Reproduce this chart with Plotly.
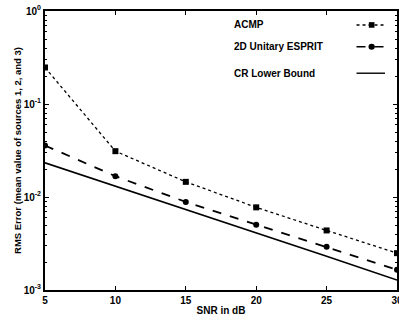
import plotly.graph_objects as go

snr = [5, 10, 15, 20, 25, 30]
acmp = [0.247, 0.0311, 0.01455, 0.00774, 0.00437, 0.00249]
esprit = [0.0358, 0.01674, 0.00885, 0.00504, 0.00292, 0.00165]
crb = [0.0233, 0.0131, 0.0074, 0.00415, 0.00231, 0.00128]

legend_names = ["ACMP", "2D Unitary ESPRIT", "CR Lower Bound"]
xticks = [5, 10, 15, 20, 25, 30]
yticks = [1e-3, 1e-2, 1e-1, 1]
yticktext = ["10<sup>-3</sup>", "10<sup>-2</sup>", "10<sup>-1</sup>", "10<sup>0</sup>"]
minor_digits = [2, 3, 4, 5, 6, 7, 8, 9]
decades = [1e-3, 1e-2, 1e-1]
yminor = [d * m for d in decades for m in minor_digits]

FONT = "Liberation Sans"
fig = go.Figure()
fig.add_trace(go.Scatter(x=snr, y=acmp, mode="lines+markers", name=legend_names[0],
                         line=dict(color="black", width=1.3, dash="dot"),
                         marker=dict(symbol="square", size=6, color="black")))
fig.add_trace(go.Scatter(x=snr, y=esprit, mode="lines+markers", name=legend_names[1],
                         line=dict(color="black", width=1.8, dash="dash"),
                         marker=dict(symbol="circle", size=6, color="black")))
fig.add_trace(go.Scatter(x=snr, y=crb, mode="lines", name=legend_names[2],
                         line=dict(color="black", width=1.6)))

# legend (text left, sample right, as in the original)
leg_y = [0.950, 0.872, 0.777]
dashes = ["dot", "dash", "solid"]
symbols = ["square", "circle", None]
for name, yy, d, s in zip(legend_names, leg_y, dashes, symbols):
    fig.add_annotation(text="<b>" + name + "</b>", xref="paper", yref="paper",
                       x=0.53, y=yy, xanchor="left", yanchor="middle", showarrow=False,
                       font=dict(family=FONT, size=10, color="black"))
    fig.add_shape(type="line", xref="paper", yref="paper", x0=0.885, x1=0.966, y0=yy, y1=yy,
                  line=dict(color="black", width=1.4, dash=d))
    if s == "square":
        fig.add_shape(type="rect", xref="paper", yref="paper", x0=0.92, x1=0.936,
                      y0=yy - 0.01, y1=yy + 0.01, fillcolor="black", line=dict(width=0))
    elif s == "circle":
        fig.add_shape(type="circle", xref="paper", yref="paper", x0=0.919, x1=0.937,
                      y0=yy - 0.011, y1=yy + 0.011, fillcolor="black", line=dict(width=0))

fig.update_layout(
    width=399, height=322,
    margin=dict(l=45, r=2, t=11, b=32),
    paper_bgcolor="white", plot_bgcolor="white",
    showlegend=False,
    font=dict(family=FONT, size=10, color="black"),
)
fig.update_xaxes(range=[5, 30], tickvals=xticks, ticktext=["<b>%d</b>" % v for v in xticks],
                 ticks="inside", ticklen=4, tickcolor="black", showgrid=False, zeroline=False,
                 showline=True, linecolor="black", linewidth=2, mirror="allticks",
                 ticklabeloverflow="allow", automargin=False,
                 title=dict(text="<b>SNR in dB</b>", standoff=2, font=dict(size=10)),
                 tickfont=dict(size=10))
fig.update_yaxes(type="log", range=[-3, 0], tickvals=yticks, ticktext=["<b>%s</b>" % t for t in yticktext],
                 ticks="inside", ticklen=4, tickcolor="black", showgrid=False, zeroline=False,
                 showline=True, linecolor="black", linewidth=2, mirror="allticks",
                 automargin=False,
                 minor=dict(ticks="inside", ticklen=2, tickcolor="black", showgrid=False,
                            tickmode="array", tickvals=yminor),
                 title=dict(text="<b>RMS Error (mean value of sources 1, 2, and 3)</b>", standoff=0,
                            font=dict(size=9.5)),
                 tickfont=dict(size=10))

fig.write_html("out.html", config={"displayModeBar": False},
               post_script="document.body.style.margin='0';")
